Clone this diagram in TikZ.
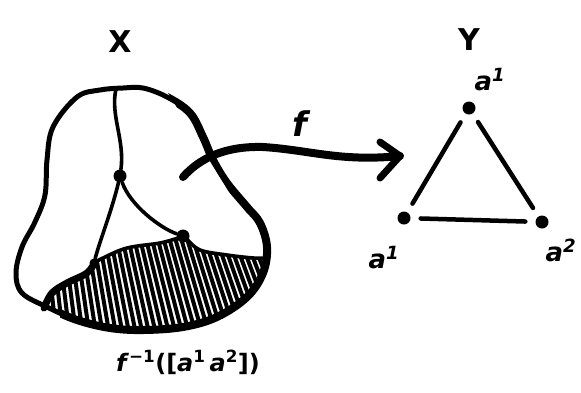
\documentclass[tikz,border=0pt]{standalone}
\usepackage{fontspec}
\setmainfont{DejaVu Sans}
\begin{document}
\begin{tikzpicture}[x=1pt,y=-1pt,line cap=round,line join=round,
  outline/.style={line width=5pt},
  inner/.style={line width=3.6pt},
  vdot/.style={circle,fill=black,inner sep=0pt,minimum size=13pt},
  sdot/.style={circle,fill=black,inner sep=0pt,minimum size=9pt},
  edge/.style={line width=4.5pt,shorten <=10pt,shorten >=10pt},
  lbl/.style={inner sep=0pt,font=\bfseries},
  alab/.style={inner sep=0pt,font=\fontsize{26}{26}\selectfont\bfseries\itshape}]
\useasboundingbox (0,0) rectangle (581,392);
\def\blob{plot[smooth cycle,tension=0.6] coordinates {
 (123,88) (143,88) (167,97) (190,113) (203,137) (213,160) (227,183) (247,207) (260,223) (267,247)
 (263,273) (247,297) (217,317) (183,327) (143,330) (110,328) (77,320) (47,307) (22,293) (16,273)
 (22,247) (35,222) (45,195) (47,160) (53,127) (77,97) (100,90)}}
% labels X and Y
\node[lbl,font=\fontsize{30}{30}\selectfont\bfseries] (X) at (120,42) {X};
\node[lbl,font=\fontsize{30}{30}\selectfont\bfseries] (Y) at (469,40) {Y};
% hatched region
\begin{scope}
\clip \blob;
\clip plot[smooth,tension=0.6] coordinates {(94,263) (103,258) (127,248) (160,243) (180,238) (200,250) (227,255) (253,258) (265,258)}
  -- (275,260) -- (275,345) -- (30,345) -- (30,310)
  -- plot[smooth,tension=0.6] coordinates {(47,307) (52,293) (67,283) (87,273) (94,263)} -- cycle;
\foreach \i in {0,...,40}{
  \pgfmathsetmacro{\dx}{8+\i*0.9}
  \draw[line width=4pt] (30+\i*6.7,340) -- (30+\i*6.7-\dx,230);
}
\end{scope}
% thick lower-left boundary of the hatched region
\draw[line width=7pt] plot[smooth,tension=0.6] coordinates {(44,308) (52,293) (67,283) (87,273) (95,262)};
% upper boundary of hatched region
\draw[inner] plot[smooth,tension=0.6] coordinates {(94,263) (103,258) (127,248) (160,243) (178,238)};
\draw[inner] plot[smooth,tension=0.6] coordinates {(187,239) (200,250) (227,255) (253,258) (264,258)};
% blob outline
\draw[outline] \blob;
% thicker right side and bottom
\begin{scope}
\clip (160,80) -- (290,80) -- (290,350) -- (60,350) -- (60,300) -- (240,210) -- cycle;
\draw[line width=8pt] \blob;
\end{scope}
% vertices inside X
\node[vdot] (p) at (120,176) {};
\node[vdot] (q) at (183,236) {};
\node[sdot] (r) at (94,263) {};
\coordinate (top) at (116,89);
% internal lines
\draw[inner] (top) .. controls (110,115) and (125,140) .. (p);
\draw[inner] (p) .. controls (112,210) and (100,240) .. (r);
\draw[inner] (p) .. controls (130,205) and (160,228) .. (q);
% arrow f
\coordinate (fs) at (183,177);
\coordinate (ft) at (400,156);
\draw[line width=8pt] (fs) .. controls (200,158) and (225,146) .. (263,147)
   .. controls (310,150) and (340,162) .. (ft);
\draw[line width=7pt] (380,142) -- (ft) -- (380,178);
\node[lbl,font=\fontsize{34}{34}\selectfont\bfseries\itshape] (f) at (300,124) {f};
% triangle in Y
\node[vdot] (a) at (469,108) {};
\node[vdot] (b) at (404,218) {};
\node[vdot] (c) at (542,222) {};
\draw[edge] (a) -- (b);
\draw[edge] (a) -- (c);
\draw[edge] (b) -- (c);
\node[alab] (la) at (490,80) {a\textsuperscript{1}};
\node[alab] (lb) at (384,258) {a\textsuperscript{1}};
\node[alab] (lc) at (561,250) {a\textsuperscript{2}};
% preimage label
\node[lbl,font=\fontsize{24}{24}\selectfont\bfseries] (pre) at (188,362) {\textit{f}\textsuperscript{−1}([\textit{a}\textsuperscript{1}\,\textit{a}\textsuperscript{2}])};
\end{tikzpicture}
\end{document}
